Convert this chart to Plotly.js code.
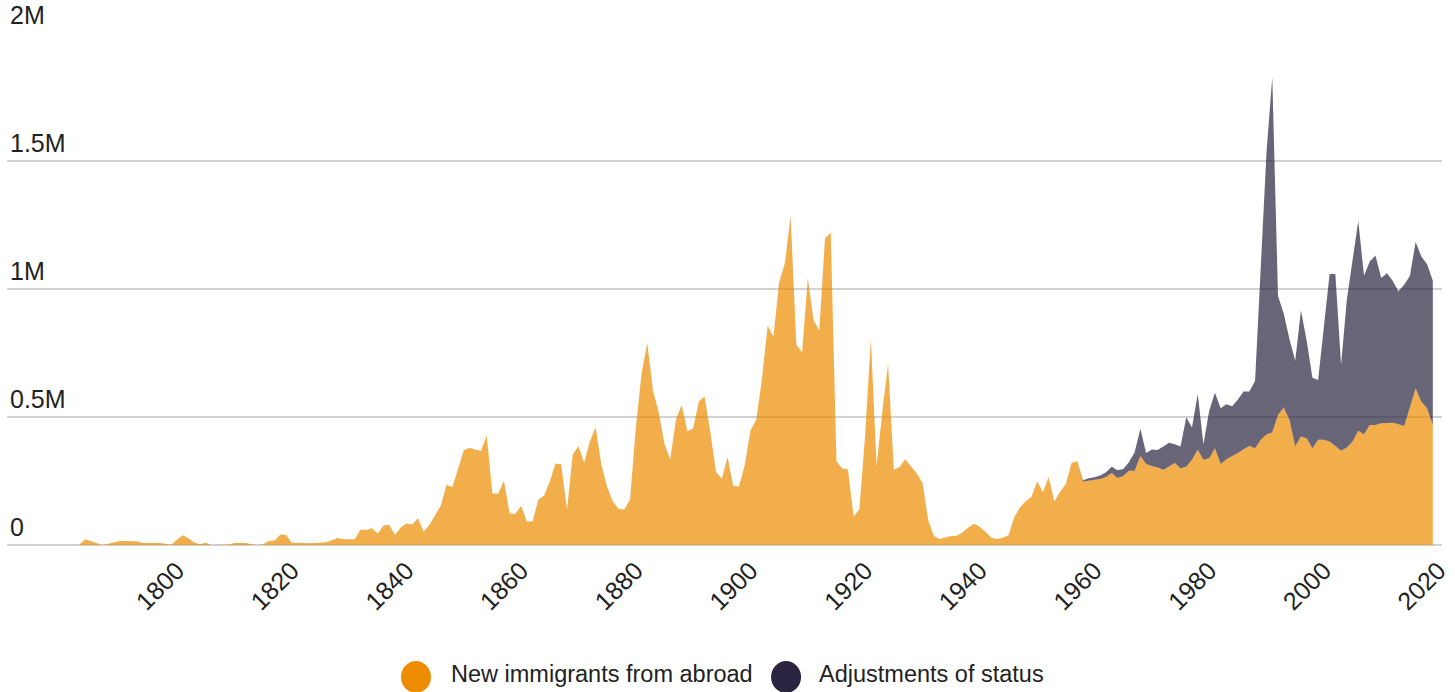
<!DOCTYPE html>
<html><head><meta charset="utf-8">
<script src="https://cdn.plot.ly/plotly-3.0.1.min.js"></script>
<style>html,body{margin:0;padding:0;background:#fff}#chart{width:1455px;height:692px}</style>
</head><body><div id="chart"></div>
<script>
// Values in thousands of people per year
const firstYear = 1783;
const newImmigrants = [
  // 1783-1819
  3, 22, 15, 8, 0, 5, 10, 16, 16, 16, 15, 8, 8, 8, 8, 5, 1, 21, 38, 25,
  10, 3, 9, 0, 0, 0, 2, 8, 8, 8, 3, 0, 3, 16, 18, 40, 40,
  // 1820-1829
  8.4, 9.1, 6.9, 6.4, 7.9, 10.2, 10.8, 18.9, 27.4, 22.5,
  // 1830-1839
  23.3, 22.6, 60.5, 58.6, 65.4, 45.4, 76.2, 79.3, 38.9, 68.1,
  // 1840-1849
  84.1, 80.3, 104.6, 52.5, 78.6, 114.4, 154.4, 235.0, 226.5, 297.0,
  // 1850-1859
  370.0, 379.5, 371.6, 368.6, 427.8, 200.9, 200.4, 251.3, 123.1, 121.3,
  // 1860-1869
  153.6, 91.9, 92.0, 176.3, 193.4, 248.1, 318.6, 315.7, 138.8, 352.8,
  // 1870-1879
  387.2, 321.4, 404.8, 459.8, 313.3, 227.5, 170.0, 141.9, 138.5, 177.8,
  // 1880-1889
  457.3, 669.4, 789.0, 603.3, 518.6, 395.3, 334.2, 490.1, 546.9, 444.4,
  // 1890-1899
  455.3, 560.3, 579.7, 439.7, 285.6, 258.5, 343.3, 230.8, 229.3, 311.7,
  // 1900-1909
  448.6, 487.9, 648.7, 857.0, 812.9, 1026.5, 1100.7, 1285.3, 782.9, 751.8,
  // 1910-1919
  1041.6, 878.6, 838.2, 1197.9, 1218.5, 326.7, 298.8, 295.4, 110.6, 141.1,
  // 1920-1929
  430.0, 805.2, 309.6, 522.9, 706.9, 294.3, 304.5, 335.2, 307.3, 279.7,
  // 1930-1939
  241.7, 97.1, 35.6, 23.1, 29.5, 35.0, 36.3, 50.2, 67.9, 83.0,
  // 1940-1949
  70.8, 51.8, 28.8, 23.7, 28.6, 38.1, 108.7, 147.3, 170.6, 188.3,
  // 1950-1957
  249.2, 205.7, 265.5, 170.4, 208.2, 237.8, 321.6, 326.9,
  // 1958-1969
  248, 252, 257, 258, 266, 281, 262, 270, 290, 290, 348, 316,
  // 1970-1979
  309, 303, 294, 306, 320, 300, 306, 333, 372, 333,
  // 1980-1989
  339, 378, 316, 335, 346, 359, 374, 387, 378, 411,
  // 1990-1999
  433, 439, 508, 537, 489, 385, 424, 417, 378, 411,
  // 2000-2009
  411, 404, 387, 368, 381, 404, 446, 433, 469, 469,
  // 2010-2019
  476, 478, 478, 472, 465, 537, 612, 560, 534, 469
];
const adjFirstYear = 1958;
const adjustments = [
  // 1958-1969
  5, 9, 8, 13, 18, 25, 30, 27, 33, 72, 106, 43,
  // 1970-1979
  64, 68, 91, 93, 74, 85, 193, 126, 218, 61,
  // 1980-1989
  185, 217, 218, 215, 196, 209, 226, 213, 263, 679,
  // 1990-1999
  1103, 1388, 465, 367, 315, 335, 492, 381, 275, 234,
  // 2000-2009
  430, 655, 672, 336, 577, 718, 820, 619, 638, 662,
  // 2010-2019
  567, 584, 554, 519, 552, 514, 572, 567, 563, 563
];
const xTickYears = [1800, 1820, 1840, 1860, 1880, 1900, 1920, 1940, 1960, 1980, 2000, 2020];
const yTickValues = [0, 500, 1000, 1500, 2000];
const yTickLabels = ['0', '0.5M', '1M', '1.5M', '2M'];
const seriesNames = ['New immigrants from abroad', 'Adjustments of status'];
const seriesColors = ['#EE8C00', '#2A2440'];
const seriesFills = ['rgba(238,140,0,0.7)', 'rgba(42,36,64,0.7)'];

const years = newImmigrants.map((_, i) => firstYear + i);
const adjYears = adjustments.map((_, i) => adjFirstYear + i);

const FONT = '"Liberation Sans", Arial, sans-serif';
const TXT = '#222222';

const traces = [
  {
    x: years, y: newImmigrants, type: 'scatter', mode: 'lines',
    name: seriesNames[0], stackgroup: 'one', stackgaps: 'infer zero',
    line: {width: 0, color: seriesColors[0]}, fillcolor: seriesFills[0],
    showlegend: false, hoverinfo: 'skip'
  },
  {
    x: adjYears, y: adjustments, type: 'scatter', mode: 'lines',
    name: seriesNames[1], stackgroup: 'one',
    line: {width: 0, color: seriesColors[1]}, fillcolor: seriesFills[1],
    showlegend: false, hoverinfo: 'skip'
  }
];

const legendY = -0.2578;
const legendItems = [
  {cx: 0.285, tx: 0.3080},
  {cx: 0.5429, tx: 0.5645}
];

const layout = {
  width: 1455, height: 692,
  margin: {l: 7, r: 13, t: 33, b: 147, pad: 0},
  paper_bgcolor: '#ffffff', plot_bgcolor: '#ffffff',
  font: {family: FONT, color: TXT},
  showlegend: false,
  xaxis: {
    range: [1770.34, 2020.6], tickmode: 'array', tickvals: xTickYears,
    ticktext: xTickYears.map(String), tickangle: -45,
    tickfont: {family: FONT, size: 25, color: TXT},
    ticklabelstandoff: 5,
    showgrid: false, zeroline: false, showline: false, ticks: ''
  },
  yaxis: {
    range: [0, 2000], tickmode: 'array', tickvals: yTickValues, ticktext: yTickLabels,
    ticklabelposition: 'inside top', ticklabeloverflow: 'allow',
    tickfont: {family: FONT, size: 25, color: TXT},
    showgrid: true, gridcolor: '#d2d2d2', gridwidth: 2,
    zeroline: true, zerolinecolor: '#d2d2d2', zerolinewidth: 2,
    showline: false, ticks: ''
  },
  shapes: legendItems.map((it, i) => ({
    type: 'circle', xref: 'paper', yref: 'paper',
    xsizemode: 'pixel', ysizemode: 'pixel',
    xanchor: it.cx, yanchor: legendY, x0: -15, x1: 15, y0: -16, y1: 16,
    fillcolor: seriesColors[i], line: {width: 0}, layer: 'above'
  })),
  annotations: legendItems.map((it, i) => ({
    xref: 'paper', yref: 'paper', x: it.tx, y: legendY + 0.006,
    xanchor: 'left', yanchor: 'middle', showarrow: false,
    text: seriesNames[i], font: {family: FONT, size: 23.5, color: TXT}
  }))
};

Plotly.newPlot('chart', traces, layout, {staticPlot: true, displayModeBar: false});
</script>
</body></html>
